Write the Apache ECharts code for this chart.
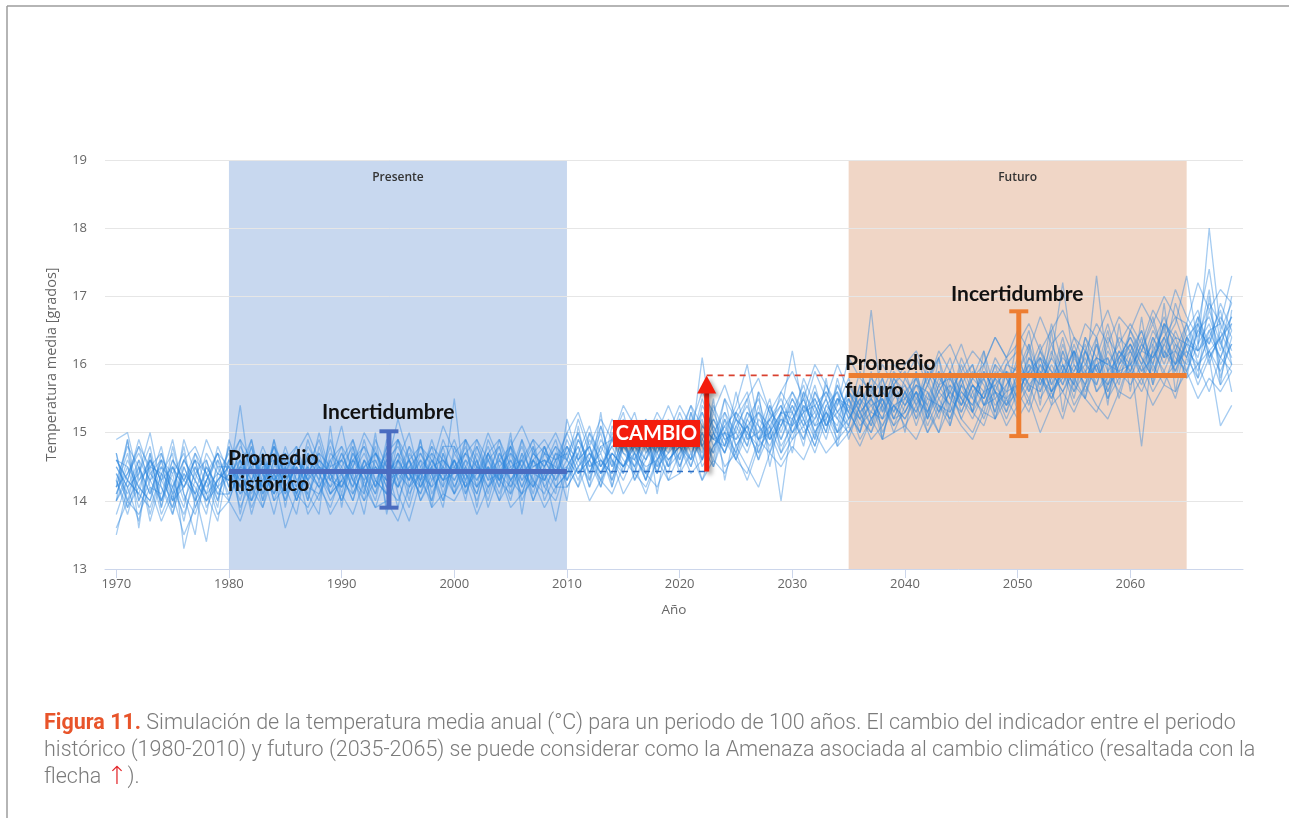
<!DOCTYPE html>
<html>
<head>
<meta charset="utf-8">
<title>Temperatura media anual</title>
<script src="https://cdn.jsdelivr.net/npm/echarts@6/dist/echarts.min.js"></script>
<style>
  html, body { margin: 0; padding: 0; background: #fff; }
  #chart { width: 1289px; height: 818px; }
</style>
</head>
<body>
<div id="chart"></div>
<script>
// one value per year, 1970 .. 2069 (rows = decades)
const startYear = 1970;

const sim01 = [
  14.1, 14.5, 13.9, 14.3, 14.8, 14.0, 14.4, 14.2, 13.8, 14.6,
  14.3, 15.4, 14.2, 14.6, 14.0, 14.5, 14.1, 14.7, 14.3, 14.9,
  14.4, 14.0, 14.6, 14.2, 14.8, 14.3, 13.9, 14.5, 14.7, 14.1,
  14.6, 14.3, 14.9, 14.4, 14.0, 14.7, 14.5, 14.2, 14.8, 14.4,
  14.9, 14.5, 14.8, 14.3, 15.1, 14.7, 14.6, 15.0, 14.4, 14.9,
  15.2, 14.8, 16.1, 15.0, 14.7, 15.3, 15.1, 14.9, 15.4, 15.0,
  15.5, 15.1, 15.3, 15.6, 15.2, 15.0, 15.4, 16.8, 15.3, 15.6,
  15.4, 15.8, 15.2, 15.6, 15.9, 15.3, 15.7, 15.5, 16.0, 15.4,
  15.9, 16.2, 15.6, 16.0, 15.7, 16.3, 15.8, 16.1, 15.5, 16.0,
  16.2, 15.8, 16.4, 16.0, 16.5, 16.1, 16.6, 16.2, 15.9, 16.3
];
const sim02 = [
  14.9, 15.0, 14.3, 14.6, 14.0, 14.4, 13.7, 14.5, 14.1, 14.3,
  14.6, 14.2, 14.8, 14.1, 14.4, 14.0, 14.7, 14.3, 14.5, 14.2,
  14.7, 14.3, 14.1, 14.9, 14.5, 14.2, 14.6, 14.0, 14.4, 14.8,
  14.2, 14.6, 14.4, 14.8, 14.3, 14.1, 14.9, 14.5, 14.6, 14.3,
  14.6, 15.0, 14.4, 14.8, 14.5, 15.2, 14.7, 14.3, 14.9, 14.6,
  14.8, 15.1, 14.6, 15.3, 14.9, 15.0, 15.5, 14.7, 15.2, 15.4,
  15.0, 15.3, 14.9, 15.4, 15.6, 15.2, 15.5, 15.1, 15.8, 15.3,
  15.6, 15.3, 15.9, 15.5, 15.2, 15.7, 16.0, 15.4, 15.8, 15.6,
  16.1, 15.7, 15.9, 15.4, 16.2, 15.8, 16.0, 16.4, 15.7, 16.1,
  15.9, 16.3, 16.1, 16.6, 15.8, 16.4, 16.2, 18.0, 16.5, 16.9
];
const sim03 = [
  13.5, 14.2, 14.6, 13.8, 14.4, 14.7, 13.3, 14.0, 14.5, 14.2,
  14.0, 14.5, 13.9, 14.3, 14.7, 14.2, 13.8, 14.6, 14.4, 14.1,
  14.5, 14.8, 14.2, 13.9, 14.4, 14.6, 14.3, 14.9, 14.1, 14.5,
  14.9, 14.4, 14.1, 14.6, 14.8, 14.2, 14.5, 14.0, 14.4, 13.7,
  14.5, 14.8, 14.2, 15.1, 14.6, 14.4, 14.9, 14.6, 15.0, 14.5,
  15.0, 14.6, 14.9, 15.2, 14.8, 15.6, 14.9, 15.3, 15.1, 14.0,
  15.2, 15.5, 15.0, 15.3, 14.9, 15.5, 15.2, 15.7, 15.0, 15.4,
  15.2, 15.6, 15.4, 15.0, 15.7, 15.5, 15.3, 15.9, 15.6, 15.2,
  15.6, 15.9, 16.3, 15.7, 16.0, 15.5, 16.2, 15.9, 16.5, 15.8,
  16.0, 16.4, 15.7, 16.2, 16.0, 16.5, 16.8, 16.1, 16.4, 15.6
];
const sim04 = [
  14.3, 13.8, 14.4, 15.0, 14.2, 13.9, 14.5, 14.1, 13.4, 14.4,
  14.7, 14.1, 14.5, 14.2, 14.8, 14.4, 14.0, 14.5, 14.9, 14.3,
  14.2, 14.6, 14.4, 14.0, 14.7, 14.9, 14.4, 14.2, 14.6, 14.3,
  14.4, 14.8, 14.2, 14.5, 14.1, 14.6, 14.3, 14.7, 14.5, 14.9,
  14.3, 14.7, 15.1, 14.5, 14.8, 14.4, 15.1, 14.8, 14.5, 15.2,
  14.6, 15.0, 15.3, 14.8, 15.1, 14.7, 15.2, 15.5, 14.9, 15.3,
  15.6, 15.2, 15.7, 15.1, 15.4, 15.8, 15.3, 15.5, 15.2, 15.7,
  15.9, 15.4, 15.7, 16.1, 15.5, 15.8, 15.3, 15.6, 16.1, 15.8,
  15.5, 16.0, 15.8, 16.3, 15.9, 15.6, 16.2, 15.8, 16.4, 16.1,
  16.4, 16.0, 16.3, 16.7, 16.2, 16.0, 16.5, 16.7, 16.2, 17.0
];
const sim05 = [
  14.6, 14.3, 14.1, 14.7, 13.9, 14.5, 14.2, 14.6, 14.0, 14.3,
  14.5, 13.9, 14.3, 14.7, 14.1, 14.4, 14.8, 14.0, 14.6, 14.4,
  14.0, 14.4, 14.7, 14.3, 14.1, 14.6, 15.0, 14.3, 14.0, 14.7,
  14.3, 14.7, 14.5, 14.0, 14.6, 14.4, 14.8, 14.3, 14.1, 14.6,
  14.8, 14.4, 14.6, 15.0, 14.3, 14.9, 14.5, 15.1, 14.7, 14.4,
  15.1, 14.7, 15.0, 14.6, 15.3, 15.0, 14.7, 15.2, 15.0, 15.6,
  15.3, 14.8, 15.6, 15.2, 15.7, 15.3, 15.0, 15.6, 15.4, 15.1,
  15.5, 15.9, 15.3, 15.7, 15.4, 16.0, 15.6, 15.2, 15.7, 15.9,
  15.8, 15.4, 16.1, 15.9, 15.6, 16.0, 15.7, 16.3, 15.9, 15.6,
  16.1, 16.5, 15.9, 16.3, 16.0, 16.6, 16.2, 16.4, 16.8, 16.0
];
const sim06 = [
  14.2, 14.7, 14.0, 14.4, 14.6, 14.1, 14.8, 13.9, 14.3, 14.7,
  14.2, 14.8, 14.5, 13.9, 14.6, 14.3, 14.5, 14.2, 14.1, 14.6,
  14.8, 14.1, 14.5, 14.6, 14.2, 14.0, 14.5, 14.7, 14.3, 14.9,
  14.5, 14.2, 14.7, 14.3, 14.9, 14.5, 14.1, 14.6, 14.8, 14.2,
  14.4, 14.9, 14.5, 14.7, 14.2, 14.8, 15.0, 14.4, 14.7, 15.0,
  14.9, 15.4, 14.8, 15.1, 14.7, 15.2, 15.0, 14.8, 15.4, 14.9,
  15.4, 15.0, 15.2, 15.7, 15.3, 15.5, 15.1, 15.3, 15.7, 15.2,
  15.3, 15.7, 15.6, 15.2, 15.8, 15.4, 15.9, 15.7, 15.3, 16.0,
  16.2, 15.6, 16.0, 15.8, 16.4, 15.7, 15.5, 16.1, 16.0, 16.3,
  15.8, 16.2, 16.6, 16.1, 16.4, 16.3, 15.9, 16.5, 16.6, 16.2
];
const sim07 = [
  14.0, 14.4, 14.8, 14.2, 14.1, 14.6, 14.3, 14.7, 14.4, 13.9,
  14.9, 14.4, 14.0, 14.5, 14.3, 14.7, 14.2, 14.9, 14.4, 14.0,
  14.3, 14.9, 14.2, 14.5, 14.3, 14.7, 14.1, 14.4, 14.8, 14.2,
  15.5, 14.1, 14.5, 14.2, 14.7, 14.3, 14.6, 14.9, 14.2, 14.5,
  15.0, 14.6, 14.3, 14.8, 14.9, 14.5, 14.8, 14.6, 15.2, 14.8,
  15.3, 14.9, 15.2, 14.5, 15.0, 15.4, 16.0, 15.1, 14.8, 15.2,
  14.9, 15.4, 15.1, 15.5, 15.0, 15.2, 15.6, 15.4, 15.1, 15.5,
  15.7, 15.2, 15.5, 15.9, 15.3, 15.6, 15.4, 16.0, 15.5, 15.7,
  16.0, 16.5, 15.7, 16.1, 15.8, 16.2, 15.9, 15.7, 16.2, 15.9,
  16.3, 15.9, 16.1, 16.4, 16.7, 16.2, 16.0, 16.4, 16.1, 16.6
];
const sim08 = [
  14.4, 14.1, 14.5, 13.7, 14.3, 14.5, 14.0, 14.4, 14.6, 14.1,
  14.4, 14.0, 14.6, 14.4, 13.8, 14.5, 14.1, 14.4, 14.7, 14.5,
  14.6, 14.4, 13.8, 14.7, 14.4, 14.2, 14.8, 14.5, 14.2, 14.4,
  14.1, 14.5, 14.3, 14.7, 14.4, 14.8, 14.0, 14.4, 14.7, 14.6,
  14.7, 14.3, 14.9, 14.6, 14.4, 15.0, 14.3, 14.7, 14.9, 14.3,
  14.7, 15.2, 14.9, 14.7, 15.5, 14.8, 15.1, 14.6, 15.3, 14.8,
  15.1, 15.6, 15.3, 14.9, 15.5, 15.1, 15.7, 15.2, 15.5, 15.0,
  15.4, 15.6, 15.1, 15.5, 15.7, 15.2, 15.6, 15.8, 15.4, 15.6,
  15.7, 16.0, 15.5, 15.8, 16.1, 15.9, 16.3, 15.6, 15.8, 16.2,
  16.0, 15.7, 16.2, 15.9, 16.3, 15.8, 16.6, 16.0, 16.5, 16.1
];
const sim09 = [
  14.7, 14.0, 14.3, 14.5, 13.8, 14.2, 14.6, 14.3, 14.9, 14.5,
  14.1, 14.6, 14.3, 14.8, 14.4, 14.1, 14.6, 14.3, 14.0, 14.7,
  14.5, 14.2, 14.9, 14.3, 14.6, 14.4, 14.2, 14.6, 14.4, 14.0,
  14.7, 14.4, 14.0, 14.5, 14.3, 14.9, 14.4, 14.2, 14.5, 14.8,
  14.2, 14.5, 14.7, 14.4, 14.7, 14.5, 14.9, 15.2, 14.6, 14.8,
  15.0, 14.5, 15.1, 14.9, 14.8, 15.2, 14.8, 15.4, 14.7, 15.1,
  15.5, 15.2, 14.8, 15.4, 15.2, 15.6, 15.3, 15.0, 15.6, 15.4,
  15.2, 15.5, 15.8, 15.3, 15.6, 15.9, 15.5, 15.3, 15.9, 15.5,
  16.4, 15.8, 16.1, 15.6, 15.9, 16.4, 16.0, 15.8, 16.1, 15.7,
  16.5, 16.1, 15.8, 16.4, 16.1, 15.9, 16.3, 17.1, 15.8, 16.4
];
const sim10 = [
  14.1, 14.6, 14.2, 14.0, 14.5, 14.3, 13.9, 14.7, 14.2, 14.4,
  14.3, 14.7, 14.1, 14.5, 14.6, 14.0, 14.4, 14.6, 14.3, 14.8,
  14.1, 14.7, 14.4, 14.1, 14.9, 14.3, 14.6, 14.2, 14.5, 14.6,
  14.4, 14.9, 14.6, 14.2, 14.5, 14.0, 14.7, 14.4, 14.3, 14.7,
  14.6, 14.2, 15.0, 14.5, 14.9, 14.6, 14.4, 14.9, 14.7, 15.1,
  14.5, 15.0, 14.7, 15.4, 15.0, 14.9, 15.3, 15.0, 15.5, 14.7,
  15.2, 15.5, 15.0, 15.3, 15.6, 14.9, 15.4, 15.7, 15.3, 15.8,
  15.5, 15.3, 15.7, 15.4, 15.1, 15.7, 15.5, 15.9, 15.6, 15.3,
  15.9, 15.6, 16.2, 15.7, 16.3, 15.8, 16.1, 15.6, 15.9, 16.4,
  16.2, 16.5, 16.0, 16.6, 16.3, 16.1, 16.7, 16.3, 16.9, 16.5
];
const sim11 = [
  13.8, 14.3, 14.9, 14.4, 14.2, 13.8, 14.5, 14.1, 14.4, 14.0,
  14.6, 14.3, 14.9, 14.0, 14.5, 14.7, 14.3, 14.1, 14.5, 14.2,
  14.4, 14.6, 14.3, 14.8, 13.9, 14.5, 14.3, 14.8, 14.6, 14.3,
  14.6, 14.0, 14.8, 14.4, 14.6, 14.3, 14.5, 14.8, 14.0, 14.4,
  14.5, 14.8, 14.4, 14.9, 14.6, 14.3, 14.7, 15.0, 14.5, 14.7,
  15.2, 14.8, 15.5, 15.0, 14.7, 15.1, 15.4, 14.9, 15.0, 15.3,
  16.2, 15.3, 15.5, 15.1, 15.5, 15.3, 15.0, 15.5, 15.8, 15.2,
  15.6, 15.8, 15.4, 15.9, 15.5, 15.3, 15.7, 15.4, 15.8, 16.1,
  15.6, 15.9, 15.7, 16.1, 17.2, 16.0, 15.7, 16.3, 15.6, 16.0,
  16.3, 16.0, 16.5, 16.2, 15.9, 16.4, 16.1, 16.8, 16.3, 16.0
];
const sim12 = [
  14.5, 14.2, 13.7, 14.6, 14.3, 14.9, 14.1, 13.8, 14.3, 14.6,
  14.0, 14.5, 14.4, 14.2, 14.9, 14.3, 14.6, 14.4, 14.2, 14.5,
  15.1, 14.3, 14.5, 14.1, 14.6, 14.8, 14.4, 14.1, 14.7, 14.5,
  14.3, 14.6, 14.2, 14.9, 14.5, 14.7, 14.2, 14.6, 14.4, 14.1,
  15.2, 14.6, 14.8, 14.4, 14.7, 14.5, 14.7, 14.3, 14.8, 14.6,
  14.8, 14.5, 15.0, 14.7, 15.2, 14.6, 15.0, 14.7, 15.1, 15.4,
  15.0, 15.4, 15.2, 15.5, 15.0, 15.6, 15.3, 15.5, 14.9, 15.6,
  15.3, 15.6, 15.2, 15.7, 15.8, 15.5, 15.2, 15.6, 15.7, 15.4,
  15.8, 15.5, 16.0, 15.6, 15.8, 16.2, 15.6, 16.0, 16.1, 15.5,
  16.1, 14.8, 16.3, 15.8, 16.0, 16.2, 15.7, 16.1, 15.1, 15.4
];
const sim13 = [
  14.3, 14.8, 14.5, 14.1, 14.6, 14.4, 14.7, 14.0, 14.5, 14.2,
  14.8, 14.2, 14.7, 14.4, 14.1, 14.6, 14.8, 14.3, 14.6, 14.1,
  14.3, 14.5, 14.8, 14.2, 14.5, 13.9, 14.7, 14.4, 14.2, 14.8,
  14.8, 14.3, 14.6, 14.1, 14.7, 14.4, 14.9, 14.2, 14.6, 14.5,
  14.3, 14.9, 14.6, 14.2, 15.0, 14.7, 14.5, 14.8, 14.4, 14.9,
  14.6, 15.3, 14.8, 15.2, 14.9, 14.6, 15.2, 14.9, 14.7, 15.3,
  15.3, 14.9, 15.4, 15.6, 15.3, 15.1, 15.7, 15.2, 15.4, 15.9,
  15.7, 15.4, 16.0, 15.6, 15.4, 16.1, 15.7, 15.5, 16.0, 15.8,
  15.4, 16.1, 15.9, 15.5, 16.0, 15.7, 16.4, 15.9, 15.7, 16.2,
  15.9, 16.3, 16.0, 16.6, 16.4, 15.9, 16.5, 16.3, 16.7, 16.4
];
const sim14 = [
  14.4, 14.0, 14.6, 14.3, 14.0, 14.5, 14.2, 14.5, 14.1, 14.8,
  14.4, 14.6, 14.2, 14.7, 14.3, 14.5, 14.1, 14.7, 14.5, 14.4,
  14.6, 14.2, 14.6, 14.4, 14.7, 14.2, 14.5, 14.3, 14.9, 14.4,
  14.5, 14.7, 14.3, 14.6, 14.2, 14.8, 14.3, 14.5, 14.6, 14.3,
  14.8, 14.4, 14.6, 15.1, 14.5, 14.8, 14.6, 14.4, 14.9, 14.5,
  15.1, 14.9, 14.6, 15.0, 15.3, 14.8, 15.1, 15.3, 14.9, 15.1,
  15.4, 15.1, 15.6, 15.3, 15.1, 15.7, 15.4, 15.1, 15.6, 15.3,
  15.8, 15.5, 15.3, 15.8, 15.6, 15.4, 15.8, 15.6, 15.2, 15.7,
  16.0, 15.7, 15.6, 16.2, 15.7, 16.1, 15.8, 17.3, 15.9, 16.1,
  16.4, 16.1, 15.8, 16.3, 16.6, 17.3, 16.3, 16.6, 16.0, 16.3
];
const sim15 = [
  14.2, 14.9, 14.0, 14.5, 14.4, 13.9, 14.6, 14.3, 14.0, 14.5,
  14.5, 14.3, 14.8, 14.1, 14.6, 14.2, 14.5, 14.0, 14.8, 14.3,
  14.7, 14.3, 14.0, 14.6, 14.2, 14.6, 14.3, 14.6, 14.0, 14.6,
  14.2, 14.5, 14.8, 14.3, 14.4, 14.6, 14.2, 14.7, 14.5, 14.8,
  14.6, 14.4, 14.7, 14.5, 14.8, 14.9, 14.3, 14.6, 14.9, 14.7,
  14.9, 15.1, 14.5, 14.8, 15.1, 15.3, 14.9, 15.0, 15.2, 14.9,
  15.3, 15.7, 15.1, 15.2, 15.5, 15.4, 15.2, 15.4, 15.5, 15.2,
  15.6, 15.1, 15.6, 15.3, 15.9, 15.6, 15.4, 15.8, 15.3, 15.9,
  15.5, 15.8, 16.2, 15.9, 15.6, 15.9, 16.2, 15.7, 16.3, 15.8,
  16.2, 15.9, 16.4, 16.1, 16.2, 16.6, 16.0, 16.2, 16.4, 16.7
];
const sim16 = [
  14.6, 14.5, 14.2, 14.0, 14.7, 14.1, 14.3, 14.6, 14.4, 14.1,
  14.1, 14.4, 14.5, 14.6, 14.2, 14.8, 14.3, 14.5, 14.2, 14.6,
  14.2, 14.7, 14.3, 14.5, 14.3, 14.7, 14.4, 14.1, 14.5, 14.2,
  14.6, 14.2, 14.4, 14.7, 14.3, 14.5, 14.6, 14.3, 14.8, 14.4,
  14.7, 15.0, 14.5, 14.6, 14.4, 15.0, 14.7, 14.5, 14.6, 15.0,
  14.8, 14.6, 15.3, 14.9, 15.0, 14.7, 15.3, 15.1, 14.9, 15.2,
  15.1, 15.3, 15.4, 15.0, 15.8, 15.2, 15.5, 15.3, 15.2, 15.4,
  15.5, 15.7, 15.5, 15.4, 15.3, 15.8, 16.0, 15.4, 15.6, 15.5,
  15.7, 16.1, 15.8, 15.6, 16.2, 15.6, 15.9, 16.1, 16.0, 15.9,
  16.0, 16.2, 16.1, 16.4, 15.9, 16.3, 16.2, 16.5, 16.1, 16.5
];
const sim17 = [
  13.6, 14.0, 13.8, 14.2, 13.7, 14.1, 13.5, 13.9, 14.3, 13.8,
  14.0, 13.7, 14.2, 13.9, 14.4, 13.6, 14.1, 13.9, 14.3, 13.8,
  14.1, 13.8, 14.3, 13.9, 14.0, 13.7, 14.2, 14.4, 13.9, 14.1,
  14.0, 14.3, 13.8, 14.2, 14.4, 13.9, 14.1, 14.3, 13.9, 14.2,
  14.2, 14.5, 14.0, 14.3, 14.6, 14.1, 14.4, 14.2, 14.6, 14.3,
  14.4, 14.7, 14.3, 14.6, 14.4, 14.8, 14.5, 14.2, 14.7, 14.5,
  14.8, 14.6, 15.0, 14.7, 14.9, 15.1, 14.8, 15.2, 14.9, 15.0,
  15.1, 14.9, 15.3, 15.0, 15.4, 15.1, 14.9, 15.3, 15.2, 15.5,
  15.2, 15.5, 15.0, 15.4, 15.6, 15.3, 15.7, 15.4, 15.2, 15.6,
  15.5, 15.8, 15.4, 15.7, 15.6, 15.9, 15.5, 15.8, 15.6, 15.9
];
const sim18 = [
  14.6, 14.3, 14.8, 14.5, 14.7, 14.2, 14.6, 14.8, 14.4, 14.7,
  14.5, 14.9, 14.6, 14.4, 14.8, 14.5, 14.7, 15.0, 14.6, 14.4,
  14.8, 14.5, 15.0, 14.7, 14.4, 14.9, 14.6, 14.8, 14.5, 15.1,
  14.7, 14.9, 14.5, 15.0, 14.6, 14.8, 15.1, 14.7, 14.9, 14.6,
  15.0, 15.3, 14.8, 15.2, 14.9, 15.4, 15.1, 14.9, 15.3, 15.0,
  15.4, 15.1, 15.6, 15.3, 15.7, 15.2, 15.5, 15.8, 15.3, 15.6,
  15.9, 15.5, 16.0, 15.7, 15.4, 16.1, 15.8, 15.6, 16.0, 15.7,
  16.0, 16.2, 15.8, 16.1, 16.3, 15.9, 16.2, 16.0, 16.4, 16.1,
  16.3, 16.6, 16.2, 16.5, 16.8, 16.4, 16.2, 16.6, 16.3, 16.7,
  16.5, 16.9, 16.6, 17.0, 16.7, 16.6, 17.2, 16.8, 17.1, 16.9
];
const sim19 = [
  14.0, 14.9, 13.6, 14.7, 13.9, 14.8, 14.1, 13.5, 14.6, 14.0,
  14.8, 13.8, 14.6, 14.0, 14.9, 13.9, 14.7, 14.1, 13.8, 15.1,
  13.9, 14.8, 14.1, 15.0, 13.8, 14.6, 14.0, 14.9, 13.9, 14.7,
  14.1, 14.9, 13.9, 14.7, 14.2, 15.0, 13.8, 14.8, 14.3, 14.6,
  14.0, 15.1, 14.3, 15.3, 14.2, 14.9, 14.4, 15.2, 14.1, 15.0,
  14.4, 15.3, 14.6, 15.5, 14.3, 15.1, 14.8, 15.6, 14.5, 15.3,
  14.7, 15.6, 14.9, 15.8, 14.8, 15.5, 15.0, 15.9, 14.9, 15.7,
  15.0, 15.9, 15.2, 16.1, 15.1, 15.8, 15.3, 16.2, 15.2, 15.9,
  15.3, 16.3, 15.4, 16.5, 15.3, 16.2, 15.5, 16.4, 15.4, 16.6,
  15.6, 16.7, 15.7, 16.9, 15.6, 16.4, 15.8, 17.0, 15.7, 16.8
];
const sim20 = [
  14.3, 13.9, 14.5, 14.1, 14.6, 13.8, 14.4, 14.0, 14.3, 14.7,
  14.2, 14.6, 13.8, 14.4, 14.1, 14.7, 14.0, 14.5, 14.2, 13.9,
  14.4, 14.0, 14.6, 14.2, 14.8, 14.1, 13.7, 14.3, 14.5, 14.0,
  14.5, 14.1, 14.6, 13.9, 14.4, 14.2, 14.7, 14.0, 14.5, 14.2,
  14.4, 14.7, 14.2, 14.6, 14.3, 14.8, 14.5, 14.1, 14.6, 14.9,
  14.5, 14.9, 14.3, 14.8, 15.0, 14.6, 14.4, 14.9, 15.1, 14.7,
  15.0, 15.2, 14.8, 15.3, 15.0, 15.4, 14.9, 15.2, 15.5, 15.1,
  15.3, 15.6, 15.0, 15.4, 15.2, 15.7, 15.3, 15.1, 15.6, 15.4,
  15.6, 15.3, 15.8, 15.5, 15.9, 15.4, 15.7, 16.0, 15.5, 15.8,
  15.9, 15.6, 16.0, 15.7, 16.2, 15.8, 16.0, 15.6, 16.1, 15.9
];
const sim21 = [
  14.5, 14.2, 14.4, 14.8, 14.0, 14.6, 14.3, 14.1, 14.7, 14.4,
  14.3, 14.5, 14.9, 14.2, 14.7, 14.4, 14.2, 14.8, 14.5, 14.3,
  14.6, 14.9, 14.4, 14.7, 14.5, 15.2, 14.6, 14.3, 14.8, 14.6,
  14.4, 14.7, 14.9, 14.6, 14.3, 14.8, 14.5, 14.9, 14.7, 14.4,
  14.8, 14.6, 15.0, 14.7, 15.2, 14.9, 15.3, 14.7, 15.0, 15.4,
  15.0, 15.4, 15.1, 14.9, 15.5, 15.2, 15.0, 15.6, 15.3, 15.1,
  15.6, 15.3, 15.9, 15.5, 16.0, 15.6, 15.4, 15.8, 15.6, 16.0,
  15.8, 16.1, 15.7, 16.2, 15.9, 16.3, 15.8, 16.0, 16.4, 16.1,
  16.5, 16.2, 16.7, 16.3, 16.5, 16.1, 16.6, 16.4, 16.8, 16.3,
  16.6, 16.3, 16.8, 16.5, 17.1, 16.7, 16.4, 16.9, 16.6, 17.3
];
const sim22 = [
  14.0, 14.3, 14.1, 13.9, 14.4, 14.2, 13.8, 14.3, 14.0, 14.2,
  14.4, 14.1, 14.3, 14.6, 14.0, 14.2, 14.5, 13.8, 14.1, 14.4,
  14.2, 14.5, 14.0, 14.3, 14.1, 14.4, 14.6, 14.0, 14.3, 14.5,
  14.1, 14.4, 14.2, 14.5, 14.0, 14.3, 14.1, 14.6, 14.2, 14.0,
  14.5, 14.2, 14.6, 14.3, 14.1, 14.5, 14.8, 14.4, 14.2, 14.6,
  14.8, 14.4, 14.6, 15.0, 14.5, 14.7, 14.3, 14.8, 15.0, 14.6,
  14.9, 15.1, 14.7, 15.2, 14.8, 15.0, 15.3, 14.9, 15.1, 15.4,
  15.1, 15.4, 15.0, 15.3, 15.6, 15.2, 15.0, 15.4, 15.5, 15.1,
  15.4, 15.7, 15.3, 15.6, 15.2, 15.8, 15.5, 15.3, 15.7, 15.9,
  15.7, 16.0, 15.6, 15.9, 15.5, 16.1, 15.8, 16.2, 15.7, 16.0
];
const sim23 = [
  14.7, 13.9, 14.2, 14.6, 14.3, 14.0, 14.9, 14.4, 14.1, 13.7,
  14.6, 14.9, 14.0, 14.3, 14.8, 14.1, 14.6, 14.3, 15.0, 14.4,
  14.0, 14.6, 14.8, 14.5, 14.1, 14.9, 14.2, 14.7, 14.4, 13.9,
  14.8, 14.5, 14.1, 14.7, 14.9, 14.3, 14.6, 14.1, 14.7, 15.0,
  14.6, 15.2, 14.7, 14.4, 14.9, 15.3, 14.6, 15.0, 14.4, 15.1,
  14.9, 14.6, 15.4, 15.1, 14.8, 15.3, 15.6, 14.9, 15.2, 15.5,
  15.1, 15.8, 15.4, 15.0, 15.7, 15.3, 15.9, 15.5, 15.2, 15.8,
  15.6, 15.2, 15.9, 15.7, 16.1, 15.5, 15.8, 16.2, 15.6, 16.0,
  15.9, 16.3, 15.8, 16.6, 16.0, 15.7, 16.4, 16.1, 16.6, 16.0,
  16.5, 16.2, 16.7, 16.1, 16.9, 16.4, 16.6, 17.4, 16.3, 16.7
];
const sim24 = [
  14.2, 14.4, 14.7, 14.3, 14.5, 14.0, 14.2, 14.6, 13.9, 14.3,
  14.5, 14.2, 14.0, 14.6, 14.3, 14.6, 14.0, 14.4, 14.7, 14.1,
  14.3, 14.1, 14.5, 14.7, 14.3, 14.4, 14.8, 14.2, 14.6, 14.3,
  14.6, 14.2, 14.5, 14.4, 14.8, 14.1, 14.4, 14.6, 14.3, 14.7,
  14.3, 14.6, 14.8, 14.2, 14.7, 14.5, 14.9, 14.3, 14.8, 14.5,
  14.7, 15.0, 14.8, 14.5, 15.2, 14.9, 15.1, 14.6, 15.0, 15.3,
  15.2, 14.9, 15.5, 15.1, 15.3, 15.6, 15.2, 15.0, 15.4, 15.7,
  15.4, 15.7, 15.3, 15.6, 15.9, 15.4, 15.7, 15.5, 15.8, 15.3,
  15.7, 15.9, 16.1, 15.6, 15.9, 16.2, 15.8, 16.0, 15.6, 16.1,
  16.3, 15.8, 16.2, 16.5, 16.0, 16.3, 16.7, 16.1, 16.4, 16.6
];
const simulations = [sim01, sim02, sim03, sim04, sim05, sim06, sim07, sim08,
                     sim09, sim10, sim11, sim12, sim13, sim14, sim15, sim16,
                     sim17, sim18, sim19, sim20, sim21, sim22, sim23, sim24];

// periodos y estadisticos anotados
const presente = [1980, 2010];
const futuro = [2035, 2065];
const histMean = 14.43;
const futMean = 15.84;
const histRange = [13.9, 15.02];
const futRange = [14.95, 16.78];
const histBarYear = 1994.2;
const futBarYear = 2050.1;
const cambioYear = 2022.4;

const BLUE = '#4a6cc0';
const ORANGE = '#ed7d31';
const RED = '#f41c0c';
const TXT = 'Lato, "Open Sans", sans-serif';
const AX = '"Open Sans", sans-serif';

const chart = echarts.init(document.getElementById('chart'));

const simSeries = simulations.map((vals, k) => ({
  name: 'sim' + (k + 1),
  type: 'line',
  silent: true,
  symbol: 'none',
  z: 2,
  lineStyle: { color: '#2a86de', width: 1.3, opacity: 0.42 },
  data: vals.map((v, i) => [startYear + i, v])
}));

// barra de incertidumbre (vertical con topes)
function errorBar(params, api) {
  const x = api.value(0);
  const lo = api.coord([x, api.value(1)]);
  const hi = api.coord([x, api.value(2)]);
  const color = params.dataIndex === 0 ? BLUE : ORANGE;
  const cap = 9.5;
  return {
    type: 'group',
    children: [
      { type: 'line', shape: { x1: lo[0], y1: lo[1], x2: hi[0], y2: hi[1] }, style: { stroke: color, lineWidth: 5 } },
      { type: 'line', shape: { x1: lo[0] - cap, y1: lo[1], x2: lo[0] + cap, y2: lo[1] }, style: { stroke: color, lineWidth: 4 } },
      { type: 'line', shape: { x1: hi[0] - cap, y1: hi[1], x2: hi[0] + cap, y2: hi[1] }, style: { stroke: color, lineWidth: 4 } }
    ]
  };
}

// flecha roja del cambio
function arrow(params, api) {
  const x = api.value(0);
  const lo = api.coord([x, api.value(1)]);
  const hi = api.coord([x, api.value(2)]);
  const shadow = { shadowColor: 'rgba(0,0,0,0.35)', shadowBlur: 4, shadowOffsetX: 3, shadowOffsetY: 3 };
  return {
    type: 'group',
    children: [
      { type: 'rect', shape: { x: lo[0] - 2.5, y: hi[1] + 16, width: 5, height: lo[1] - hi[1] - 16 },
        style: Object.assign({ fill: RED }, shadow) },
      { type: 'polygon', shape: { points: [[hi[0], hi[1]], [hi[0] - 9.5, hi[1] + 18], [hi[0] + 9.5, hi[1] + 18]] },
        style: Object.assign({ fill: RED }, shadow) }
    ]
  };
}

const lineOnly = (color, width, type) => ({
  type: 'line', silent: true, symbol: 'none', z: 3,
  lineStyle: { color: color, width: width, type: type }
});

const label = (text, x, y, extra) => ({
  type: 'text', z: 100, x: x, y: y,
  style: Object.assign({ text: text, font: 'bold 21px ' + TXT, fill: '#111', verticalAlign: 'middle' }, extra || {})
});

const option = {
  animation: false,
  backgroundColor: '#fff',
  grid: { left: 105, right: 46, top: 160, bottom: 249 },
  xAxis: {
    type: 'value',
    min: 1969,
    max: 2070,
    splitNumber: 10,
    z: 1.5,
    name: 'Año',
    nameLocation: 'middle',
    nameGap: 34,
    nameTextStyle: { color: '#666', fontSize: 13.5, fontFamily: AX },
    axisLine: { lineStyle: { color: '#ccd6eb' } },
    axisTick: { length: 9, lineStyle: { color: '#ccd6eb' } },
    axisLabel: { color: '#666', fontSize: 13, margin: 9, showMinLabel: false, showMaxLabel: false,
                 fontFamily: AX, formatter: v => String(v) },
    splitLine: { show: false }
  },
  yAxis: {
    type: 'value',
    min: 13,
    max: 19,
    interval: 1,
    z: 1.5,
    name: 'Temperatura media [grados]',
    nameLocation: 'middle',
    nameGap: 46,
    nameTextStyle: { color: '#666', fontSize: 14.5, fontFamily: AX },
    axisLine: { show: false },
    axisTick: { show: false },
    axisLabel: { color: '#666', fontSize: 13, margin: 18, fontFamily: AX },
    splitLine: { lineStyle: { color: '#e6e6e6', width: 1 } }
  },
  series: [
    {
      name: 'periodos',
      type: 'line',
      data: [],
      markArea: {
        silent: true,
        label: { position: 'insideTop', distance: 12, color: '#333', fontSize: 12, fontWeight: 600,
                 fontFamily: AX },
        data: [
          [{ name: 'Presente', xAxis: presente[0], itemStyle: { color: '#c8d8ef' } }, { xAxis: presente[1] }],
          [{ name: 'Futuro', xAxis: futuro[0], itemStyle: { color: '#f0d6c6' } }, { xAxis: futuro[1] }]
        ]
      }
    },
    ...simSeries,
    Object.assign(lineOnly(BLUE, 5, 'solid'), { data: [[presente[0], histMean], [presente[1], histMean]] }),
    Object.assign(lineOnly('#2f6fc4', 1.6, [6, 5]), { data: [[presente[1], histMean], [cambioYear, histMean]] }),
    Object.assign(lineOnly(ORANGE, 5, 'solid'), { data: [[futuro[0], futMean], [futuro[1], futMean]] }),
    Object.assign(lineOnly('#d9412f', 1.6, [6, 5]), { data: [[cambioYear, futMean], [futuro[0], futMean]] }),
    {
      type: 'custom', silent: true, z: 4,
      renderItem: errorBar,
      encode: { x: 0, y: [1, 2] },
      data: [[histBarYear, histRange[0], histRange[1]], [futBarYear, futRange[0], futRange[1]]]
    },
    {
      type: 'custom', silent: true, z: 5,
      renderItem: arrow,
      encode: { x: 0, y: [1, 2] },
      data: [[cambioYear, histMean, futMean]]
    }
  ],
  graphic: [
    // marco
    { type: 'line', z: 100, shape: { x1: 7, y1: 6, x2: 1289, y2: 6 }, style: { stroke: '#9c9c9c', lineWidth: 1.5 } },
    { type: 'line', z: 100, shape: { x1: 7, y1: 6, x2: 7, y2: 818 }, style: { stroke: '#9c9c9c', lineWidth: 1.5 } },
    // anotaciones
    label('Incertidumbre', 322, 412),
    label('Promedio', 228, 458),
    label('histórico', 228, 484),
    label('Incertidumbre', 951, 294),
    label('Promedio', 845, 363),
    label('futuro', 845, 390),
    { type: 'rect', z: 100, shape: { x: 613, y: 420, width: 87, height: 27 },
      style: { fill: RED, shadowColor: 'rgba(0,0,0,0.35)', shadowBlur: 4, shadowOffsetX: 3, shadowOffsetY: 3 } },
    label('CAMBIO', 656.5, 434, { fill: '#fff', align: 'center', font: 'bold 20px ' + TXT }),
    // pie de figura
    {
      type: 'text', z: 100, x: 44, y: 710,
      style: {
        text: '{o|Figura 11.} Simulación de la temperatura media anual (°C) para un periodo de 100 años. El cambio del indicador entre el periodo\n' +
              'histórico (1980-2010) y futuro (2035-2065) se puede considerar como la Amenaza asociada al cambio climático (resaltada con la\n' +
              'flecha {r|↑}).',
        fontSize: 21.5,
        fontFamily: 'Roboto, sans-serif',
        fontWeight: 300,
        fill: '#7b7b7b',
        lineHeight: 27,
        rich: {
          o: { fill: '#e8542a', fontWeight: 'bold', fontSize: 21.5, fontFamily: 'Roboto, sans-serif', lineHeight: 27 },
          r: { fill: '#e3262a', fontSize: 25, fontWeight: 300, fontFamily: '"DejaVu Sans", sans-serif', lineHeight: 27 }
        }
      }
    }
  ]
};

chart.setOption(option);
</script>
</body>
</html>
